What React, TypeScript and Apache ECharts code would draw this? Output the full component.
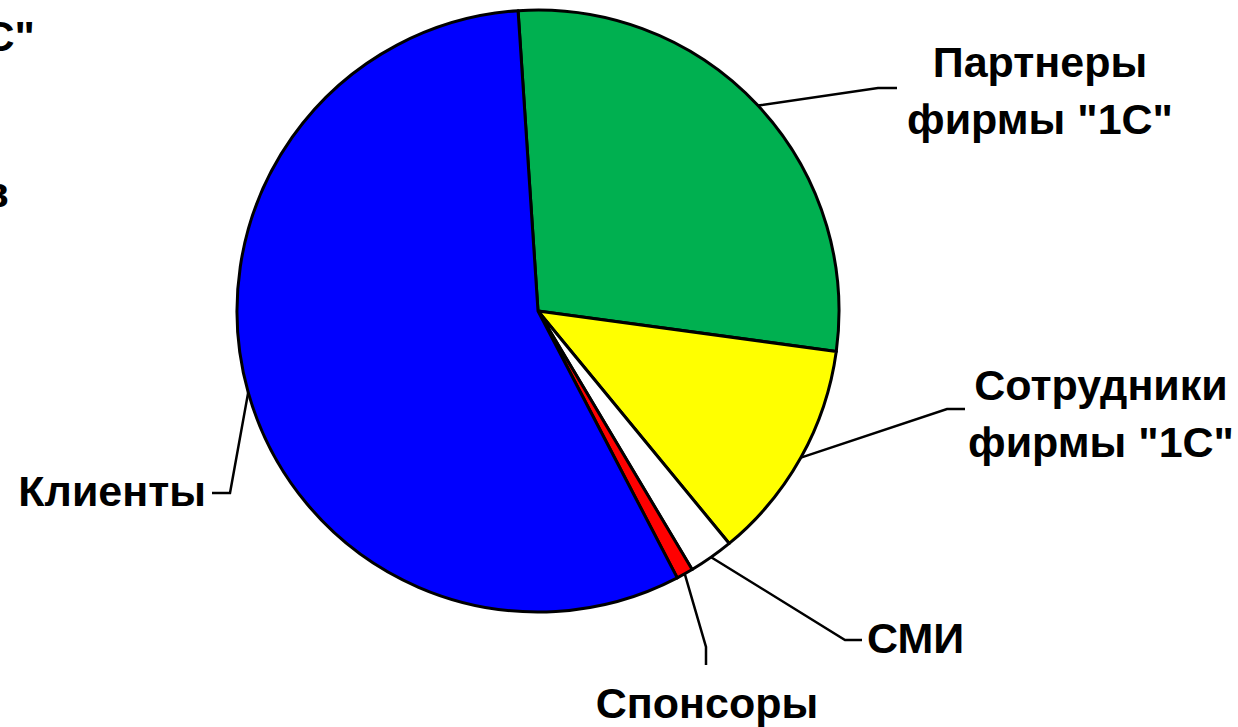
import React, { useEffect, useRef } from "react";
import * as echarts from "echarts";

// Data (clockwise from the top)
const categories = ['Партнеры\nфирмы "1С"', 'Сотрудники\nфирмы "1С"', "СМИ", "Спонсоры", "Клиенты"];
const values = [28.2, 11.9, 2.4, 0.9, 56.6];
const colors = ["#00B050", "#FFFF00", "#FFFFFF", "#FF0000", "#0000FF"];

// Label placement (annotation layout only)
const labelPlacement = [
  { x: 1040, y: 90, align: "center", knee: [878, 88], end: [897, 88] },
  { x: 1101, y: 413, align: "center", knee: [947, 409], end: [965, 409] },
  { x: 867, y: 638, align: "left", knee: [845, 640], end: [862, 640] },
  { x: 707, y: 703, align: "center", knee: [706, 647], end: [706, 665] },
  { x: 206, y: 491, align: "right", knee: [230, 493], end: [212, 493] },
];

const FONT = "'Liberation Sans', Arial, sans-serif";

export default function App() {
  const ref = useRef<HTMLDivElement>(null);
  useEffect(() => {
    if (!ref.current) return;
    const chart = echarts.init(ref.current, undefined, { renderer: "svg" });
    const cx = 538, cy = 311, r = 301;
    chart.setOption({
      animation: false,
      backgroundColor: "#ffffff",
      graphic: [
        {
          type: "text",
          x: 35,
          y: 36,
          style: { text: 'фирмы "1С"', align: "right", verticalAlign: "middle", font: `bold 43px ${FONT}`, fill: "#000" },
        },
        {
          type: "text",
          x: 9,
          y: 192,
          style: { text: "в", align: "right", verticalAlign: "middle", font: `bold 43px ${FONT}`, fill: "#000" },
        },
      ],
      series: [
        {
          type: "pie",
          center: [cx, cy],
          radius: r,
          startAngle: 93.8,
          clockwise: true,
          avoidLabelOverlap: false,
          itemStyle: { borderColor: "#000", borderWidth: 3 },
          label: {
            show: true,
            position: "outside",
            fontFamily: FONT,
            fontWeight: "bold",
            fontSize: 43,
            lineHeight: 57,
            color: "#000",
          },
          labelLine: { show: true, lineStyle: { color: "#000", width: 2.5 }, length: 10, length2: 10 },
          labelLayout: (params: any) => {
            const p = labelPlacement[params.dataIndex];
            let start = params.labelLinePoints && params.labelLinePoints[0];
            if (!start) {
              let acc = 0;
              for (let i = 0; i < params.dataIndex; i++) acc += values[i];
              const total = values.reduce((a, b) => a + b, 0);
              const mid = ((acc + values[params.dataIndex] / 2) / total) * 360 - 3.8;
              const rad = (mid * Math.PI) / 180;
              start = [cx + r * Math.sin(rad), cy - r * Math.cos(rad)];
            }
            return {
              x: p.x,
              y: p.y,
              align: p.align,
              verticalAlign: "middle",
              labelLinePoints: [start, p.knee, p.end],
            };
          },
          data: categories.map((name, i) => ({
            name,
            value: values[i],
            itemStyle: { color: colors[i] },
          })),
        },
      ],
    });
    return () => chart.dispose();
  }, []);
  return (
    <div
      ref={ref}
      style={{ position: "fixed", left: 0, top: 0, width: 1238, height: 727, background: "#fff" }}
    />
  );
}
